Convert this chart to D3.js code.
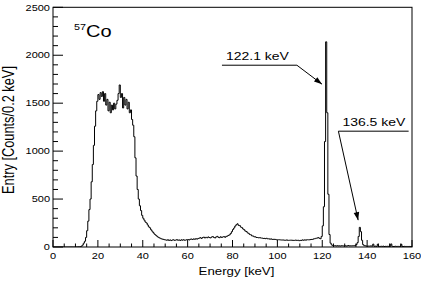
<!DOCTYPE html>
<html>
<head>
<meta charset="utf-8">
<script src="https://cdn.jsdelivr.net/npm/d3@7"></script>
<style>
  html, body { margin: 0; padding: 0; background: #fff; }
  svg { display: block; }
  text { font-family: "Liberation Sans", Arial, Helvetica, sans-serif; fill: #000; }
</style>
</head>
<body>
<svg id="chart" width="421" height="284"></svg>
<script>
// ---------------- data ----------------
const binStart = 0;      // keV
const binWidth = 0.5;    // keV
// counts per bin (Counts/0.2 keV), bins from 0 to 160 keV
const counts = [
  // 0 - 11.5
  0,0,0,0,0,0,0,0,0,0, 0,0,0,0,0,0,0,0,0,0, 1,0,2,1,
  // 12.0 - 24.5
  3,8,20,40,60,100,170,270,390,500,680,860,1060,1260,1420,1520,1590,1540,1610,1570,1620,1520,1600,1480,1540,1420,
  // 25.0 - 49.5
  1510,1400,1480,1430,1500,1440,1490,1530,1600,1690,1560,1600,1450,1560,1480,1540,1440,1510,1400,1430,
  1330,1270,1150,930,740,600,500,430,380,330,300,280,260,250,230,210,200,180,165,150,
  135,125,115,105,98,92,86,82,80,76,
  // 50 - 59.5
  74,70,76,68,74,67,73,75,69,72,77,70,74,68,75,71,76,70,73,77,
  // 60 - 74.5
  78,73,81,83,78,85,80,87,82,89,
  93,97,89,99,103,94,101,96,105,98,
  95,104,109,99,94,105,111,101,97,107,
  // 75 - 89.5
  99,105,109,101,111,114,121,127,141,160,
  182,198,218,232,242,226,224,208,202,188,
  180,166,162,148,142,130,127,116,114,106,
  // 90 - 119.5
  106,99,99,95,98,93,93,89,90,87,
  91,85,86,81,85,79,80,80,79,75,
  76,76,74,73,73,73,71,70,74,69,
  70,71,71,70,69,69,73,68,71,66,
  69,69,74,70,75,71,76,75,75,77,
  79,79,85,87,91,93,98,91,86,110,
  // 120 - 124.5
  220,420,1100,2140,1400,550,130,40,22,15,
  // 125 - 139.5
  12,14,10,13,11,12,10,14,12,11,
  13,10,12,15,11,13,12,14,13,16,
  25,45,110,205,160,70,25,14,12,10,
  // 140 - 159.5
  8,10,9,12,8,30,7,9,6,28,
  7,5,8,6,9,5,7,6,8,5,
  6,32,7,5,6,8,5,7,6,5,
  28,6,5,7,4,6,5,6,4,5
];

const xTickValues = [0, 20, 40, 60, 80, 100, 120, 140, 160];
const xTickLabels = ["0", "20", "40", "60", "80", "100", "120", "140", "160"];
const yTickValues = [0, 500, 1000, 1500, 2000, 2500];
const yTickLabels = ["0", "500", "1000", "1500", "2000", "2500"];
const xTitle = "Energy [keV]";
const yTitle = "Entry [Counts/0.2 keV]";

// annotations: label, underline start/end (keV, counts), arrow tip (keV, counts)
const annotLabels = ["122.1 keV", "136.5 keV"];
const annotLineStart = [[75.3, 1896], [127.2, 1208]];
const annotLineEnd   = [[108.7, 1896], [158.5, 1208]];
const annotTip       = [[119.9, 1698], [136.0, 280]];

// ---------------- layout ----------------
const SX = 1.25; // horizontal stretch of the original picture's text
const svg = d3.select("#chart");
const x = d3.scaleLinear().domain([0, 160]).range([53, 412]);
const y = d3.scaleLinear().domain([0, 2500]).range([247, 7.3]);

// histogram
const pts = counts.map((c, i) => [binStart + i * binWidth, c]);
pts.push([binStart + counts.length * binWidth, counts[counts.length - 1]]);
svg.append("defs").append("clipPath").attr("id", "clip")
  .append("rect").attr("x", 53).attr("y", 7).attr("width", 359).attr("height", 240);
svg.append("path")
  .datum(pts)
  .attr("clip-path", "url(#clip)")
  .attr("fill", "none")
  .attr("stroke", "#000")
  .attr("stroke-width", 1)
  .attr("d", d3.line().x(d => x(d[0])).y(d => y(d[1])).curve(d3.curveStepAfter));

// frame
svg.append("rect")
  .attr("x", x(0)).attr("y", y(2500))
  .attr("width", x(160) - x(0)).attr("height", y(0) - y(2500))
  .attr("fill", "none").attr("stroke", "#000").attr("stroke-width", 1);

// x ticks (inside)
const xMinor = d3.range(0, 160.1, 5);
svg.append("g").selectAll("line").data(xMinor).join("line")
  .attr("x1", d => x(d)).attr("x2", d => x(d))
  .attr("y1", y(0)).attr("y2", d => y(0) - (d % 20 === 0 ? 7 : 3.5))
  .attr("stroke", "#000").attr("stroke-width", 1);
svg.append("g").selectAll("text").data(xTickValues).join("text")
  .attr("transform", d => `translate(${x(d)},259) scale(${SX},1)`)
  .attr("text-anchor", "middle")
  .attr("font-size", 8.8)
  .text((d, i) => xTickLabels[i]);

// y ticks (inside)
const yMinor = d3.range(0, 2500.1, 100);
svg.append("g").selectAll("line").data(yMinor).join("line")
  .attr("x1", x(0)).attr("x2", d => x(0) + (d % 500 === 0 ? 10 : 5))
  .attr("y1", d => y(d)).attr("y2", d => y(d))
  .attr("stroke", "#000").attr("stroke-width", 1);
svg.append("g").selectAll("text").data(yTickValues).join("text")
  .attr("transform", d => `translate(50,${y(d) + 3.2}) scale(${SX},1)`)
  .attr("text-anchor", "end")
  .attr("font-size", 8.8)
  .text((d, i) => yTickLabels[i]);

// axis titles
svg.append("text")
  .attr("transform", `translate(${(x(0) + x(160)) / 2 + 4},275) scale(${SX},1)`)
  .attr("text-anchor", "middle")
  .attr("font-size", 10.6)
  .text(xTitle);
svg.append("text")
  .attr("transform", `translate(13.5,130) scale(${SX},1) rotate(-90)`)
  .attr("text-anchor", "middle")
  .attr("font-size", 12.8)
  .text(yTitle);

// 57Co label
const iso = svg.append("text")
  .attr("transform", `translate(74,37) scale(${SX},1)`)
  .attr("font-size", 16);
iso.append("tspan").attr("font-size", 8.6).attr("dy", -6.8).text("57");
iso.append("tspan").attr("dy", 6.8).text("Co");

// annotations
annotLabels.forEach((lab, i) => {
  const [x0, y0] = [x(annotLineStart[i][0]), y(annotLineStart[i][1])];
  const [x1, y1] = [x(annotLineEnd[i][0]), y(annotLineEnd[i][1])];
  const [tx, ty] = [x(annotTip[i][0]), y(annotTip[i][1])];
  const g = svg.append("g");
  g.append("text")
    .attr("transform", `translate(${x0 + 4},${y0 - 5}) scale(${SX},1)`)
    .attr("font-size", 11.2)
    .text(lab);
  g.append("line").attr("x1", x0).attr("y1", y0).attr("x2", x1).attr("y2", y1)
    .attr("stroke", "#000").attr("stroke-width", 1);
  const [ax, ay] = i === 0 ? [x1, y1] : [x0, y0];
  g.append("line").attr("x1", ax).attr("y1", ay).attr("x2", tx).attr("y2", ty)
    .attr("stroke", "#000").attr("stroke-width", 1);
  const ang = Math.atan2(ty - ay, tx - ax);
  const L = 8, W = 2.8;
  const bx = tx - L * Math.cos(ang), by = ty - L * Math.sin(ang);
  const px = -Math.sin(ang) * W, py = Math.cos(ang) * W;
  g.append("path")
    .attr("d", `M${tx},${ty}L${bx + px},${by + py}L${bx - px},${by - py}Z`)
    .attr("fill", "#000");
});
</script>
</body>
</html>
